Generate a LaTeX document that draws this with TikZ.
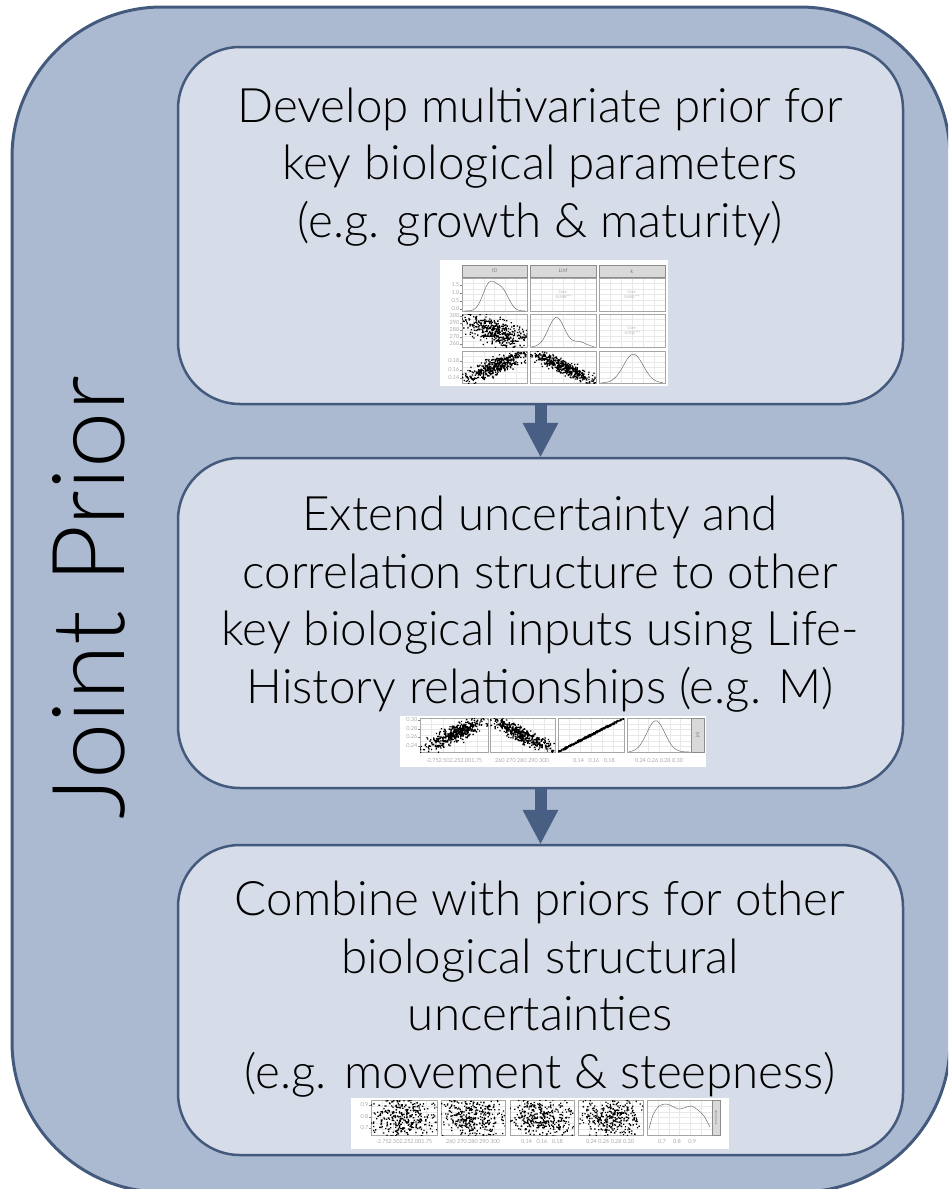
\documentclass[tikz,border=0pt]{standalone}
\usepackage{fontspec}
\setmainfont{Lato Light}
\usetikzlibrary{arrows.meta}

\definecolor{outerfill}{RGB}{171,186,209}
\definecolor{innerfill}{RGB}{214,220,232}
\definecolor{edgeblue}{RGB}{68,90,125}
\definecolor{arrowblue}{RGB}{72,94,130}
\definecolor{stripgrey}{RGB}{217,217,217}
\definecolor{gridgrey}{RGB}{232,232,232}

\tikzset{
	outerbox/.style={draw=edgeblue, line width=3pt, fill=outerfill, rounded corners=150pt},
	stepbox/.style={draw=edgeblue, line width=2.5pt, fill=innerfill, rounded corners=62pt, minimum width=725pt},
	steptext/.style={align=center, font=\fontsize{47.5}{57.5}\selectfont},
	flow/.style={draw=arrowblue, line width=12pt, -{Triangle[width=36pt,length=34pt,line width=0pt]}},
	tiny/.style={font=\fontsize{5.5}{6}\selectfont, text=black!75, inner sep=0pt},
	axislabel/.style={font=\fontsize{5.5}{6}\selectfont, text=black!60, inner sep=0.6pt},
	corr/.style={align=center, font=\fontsize{4}{5}\selectfont, text=black!55, inner sep=0pt},
	strip/.style={fill=stripgrey, draw=black!45, line width=0.4pt},
	gridline/.style={draw=gridgrey, line width=0.3pt},
	panelframe/.style={draw=black!35, line width=0.4pt},
	densityline/.style={draw=black!60, line width=0.45pt},
	tick/.style={draw=black!50, line width=0.3pt}
}

% one facet of a pairs plot: grid and frame
\newcommand{\plotpanel}[4]{%
	\draw[gridline] foreach \f in {0.1667,0.3333,0.5,0.6667,0.8333}{
		({#1+(#3-#1)*\f},#2) -- ({#1+(#3-#1)*\f},#4)
		(#1,{#2+(#4-#2)*\f}) -- (#3,{#2+(#4-#2)*\f})};
	\draw[panelframe] (#1,#2) rectangle (#3,#4);
}
% cloud of #7 draws, y = a*u + b*v
\newcommand{\scatterdots}[7]{%
	\gdef\dotlist{}%
	\foreach \i in {1,...,#7}{
		\pgfmathsetmacro\ua{(rand+rand+rand)/3}
		\pgfmathsetmacro\ub{(rand+rand+rand)/3}
		\pgfmathsetmacro\dotx{#1+(#3-#1)*(0.5+0.75*\ua)-0.65}
		\pgfmathsetmacro\doty{#2+(#4-#2)*(0.5-0.75*((#5)*\ua+(#6)*\ub))-0.65}
		\xdef\dotlist{\dotlist (\dotx,\doty) rectangle +(1.3,1.3)}
	}
	\begin{scope}
		\clip (#1,#2) rectangle (#3,#4);
		\fill \dotlist;
	\end{scope}
}
% density line over a facet
\newcommand{\densitycurve}[5]{%
	\draw[densityline] plot[domain=0.03:0.97, samples=40, smooth] ({#1+(#3-#1)*\x}, {#4-(#4-#2)*(#5)});
}

\begin{document}
\begin{tikzpicture}[x=1pt, y=-1pt]
	\useasboundingbox (0,0) rectangle (948,1189);
	\clip (0,0) rectangle (948,1189);
	\pgfmathsetseed{11}

	% container and the three steps
	\node[outerbox, minimum width=938pt, minimum height=1185pt] (prior) at (481,599.5) {};
	\node[rotate=90, font=\fontsize{101}{101}\selectfont, inner sep=0pt] (priorlabel) at (89,598) {Joint Prior};
	\node[stepbox, minimum height=357pt] (develop) at (540.5,225.5) {};
	\node[stepbox, minimum height=330pt] (extend) at (540.5,623) {};
	\node[stepbox, minimum height=310pt] (combine) at (540.5,1000) {};
	\draw[flow] (develop) -- (extend);
	\draw[flow] (extend) -- (combine);

	\node[steptext] (developtext) at (540,167) {Develop multivariate prior for\\key biological parameters\\(e.g. growth \& maturity)};
	\node[steptext] (extendtext) at (540,604) {Extend uncertainty and\\correlation structure to other\\key biological inputs using Life-\\History relationships (e.g. M)};
	\node[steptext] (combinetext) at (540,989) {Combine with priors for other\\biological structural\\uncertainties\\(e.g. movement \& steepness)};

	% pairs plot: t0, Linf, k
	\fill[white] (440,260) rectangle (668,386);
	\foreach \xa/\xb/\lab [count=\c] in {462/527/t0, 530/596/Linf, 599/665/k}{
		\draw[strip] (\xa,265) rectangle (\xb,277);
		\node[tiny] (head\c) at ({(\xa+\xb)/2},271) {\lab};
	}
	\foreach \xa/\xb in {462/527, 530/596, 599/665}{
		\foreach \ya/\yb in {278/311, 314/347, 351/383}{\plotpanel{\xa}{\ya}{\xb}{\yb}}
	}
	\densitycurve{462}{278}{527}{311}{0.8*exp(-((\x-0.42)^2)/0.02)+0.6*exp(-((\x-0.62)^2)/0.02)}
	\densitycurve{530}{314}{596}{347}{0.9*exp(-((\x-0.4)^2)/0.03)+0.15*exp(-((\x-0.75)^2)/0.02)}
	\densitycurve{599}{351}{665}{383}{0.9*exp(-((\x-0.52)^2)/0.045)}
	\scatterdots{462}{314}{527}{347}{-0.6}{0.8}{450}
	\scatterdots{462}{351}{527}{383}{0.85}{0.53}{450}
	\scatterdots{530}{351}{596}{383}{-0.9}{0.44}{450}
	\node[corr] (corrtl) at (563,294.5) {Corr:\\-0.598***};
	\node[corr] (corrtk) at (632,294.5) {Corr:\\0.850***};
	\node[corr] (corrlk) at (632,330.5) {Corr:\\-0.902***};
	\foreach \v/\y [count=\c] in {1.5/285, 1.0/293, 0.5/301, 0.0/309, 300/316, 290/323, 280/330, 270/337, 260/344, 0.18/361, 0.16/370, 0.14/378}{
		\node[axislabel, anchor=east] (ya\c) at (460,\y) {\v};
		\draw[tick] (460,\y) -- (462,\y);
	}

	% M against the growth parameters
	\fill[white] (400,716) rectangle (706,767);
	\foreach \xa/\xb in {420/488, 490/555, 558/624, 627/691}{\plotpanel{\xa}{718}{\xb}{752}}
	\draw[strip] (691,718) rectangle (704,752);
	\node[tiny, rotate=-90] (mstrip) at (697.5,735) {M};
	\scatterdots{420}{718}{488}{752}{0.85}{0.53}{450}
	\scatterdots{490}{718}{555}{752}{-0.9}{0.44}{450}
	\scatterdots{558}{718}{624}{752}{0.99}{0.06}{450}
	\densitycurve{627}{718}{691}{752}{0.92*exp(-((\x-0.45)^2)/0.04)}
	\foreach \v/\y [count=\c] in {0.30/720, 0.28/729, 0.26/737, 0.24/746}{
		\node[axislabel, anchor=east] (yb\c) at (418,\y) {\v};
		\draw[tick] (418,\y) -- (420,\y);
	}
	\foreach \xc/\v [count=\c] in {454/{-2.752.502.252.001.75}, 522/{260 270 280 290 300}, 594/{0.14~~~0.16~~~0.18}, 659/{0.24 0.26 0.28 0.30}}
		\node[axislabel] (xb\c) at (\xc,761) {\v};

	% steepness against the others
	\fill[white] (351,1098) rectangle (729,1149);
	\foreach \xa/\xb in {371/437, 441/505, 510/574, 578/643, 647/712}{\plotpanel{\xa}{1100}{\xb}{1135}}
	\draw[strip] (712,1100) rectangle (720,1135);
	\node[tiny, rotate=-90, font=\fontsize{3.5}{4}\selectfont] (hstrip) at (716,1117.5) {steepness};
	\scatterdots{371}{1100}{437}{1135}{0}{1.3}{380}
	\scatterdots{441}{1100}{505}{1135}{0}{1.3}{380}
	\scatterdots{510}{1100}{574}{1135}{0}{1.3}{380}
	\scatterdots{578}{1100}{643}{1135}{0}{1.3}{380}
	\draw[densityline] plot[smooth] coordinates {(649,1129) (653,1115) (659,1106) (666,1104) (672,1106) (678,1109) (684,1108) (691,1106) (698,1110) (704,1116) (710,1127)};
	\foreach \v/\y [count=\c] in {0.9/1105, 0.8/1117, 0.7/1128}{
		\node[axislabel, anchor=east] (yc\c) at (369,\y) {\v};
		\draw[tick] (369,\y) -- (371,\y);
	}
	\foreach \xc/\v [count=\c] in {404/{-2.752.502.252.001.75}, 473/{260 270 280 290 300}, 542/{0.14~~~0.16~~~0.18}, 610/{0.24 0.26 0.28 0.30}, 677/{0.7~~~~~0.8~~~~~0.9}}
		\node[axislabel] (xc\c) at (\xc,1142) {\v};
\end{tikzpicture}
\end{document}
